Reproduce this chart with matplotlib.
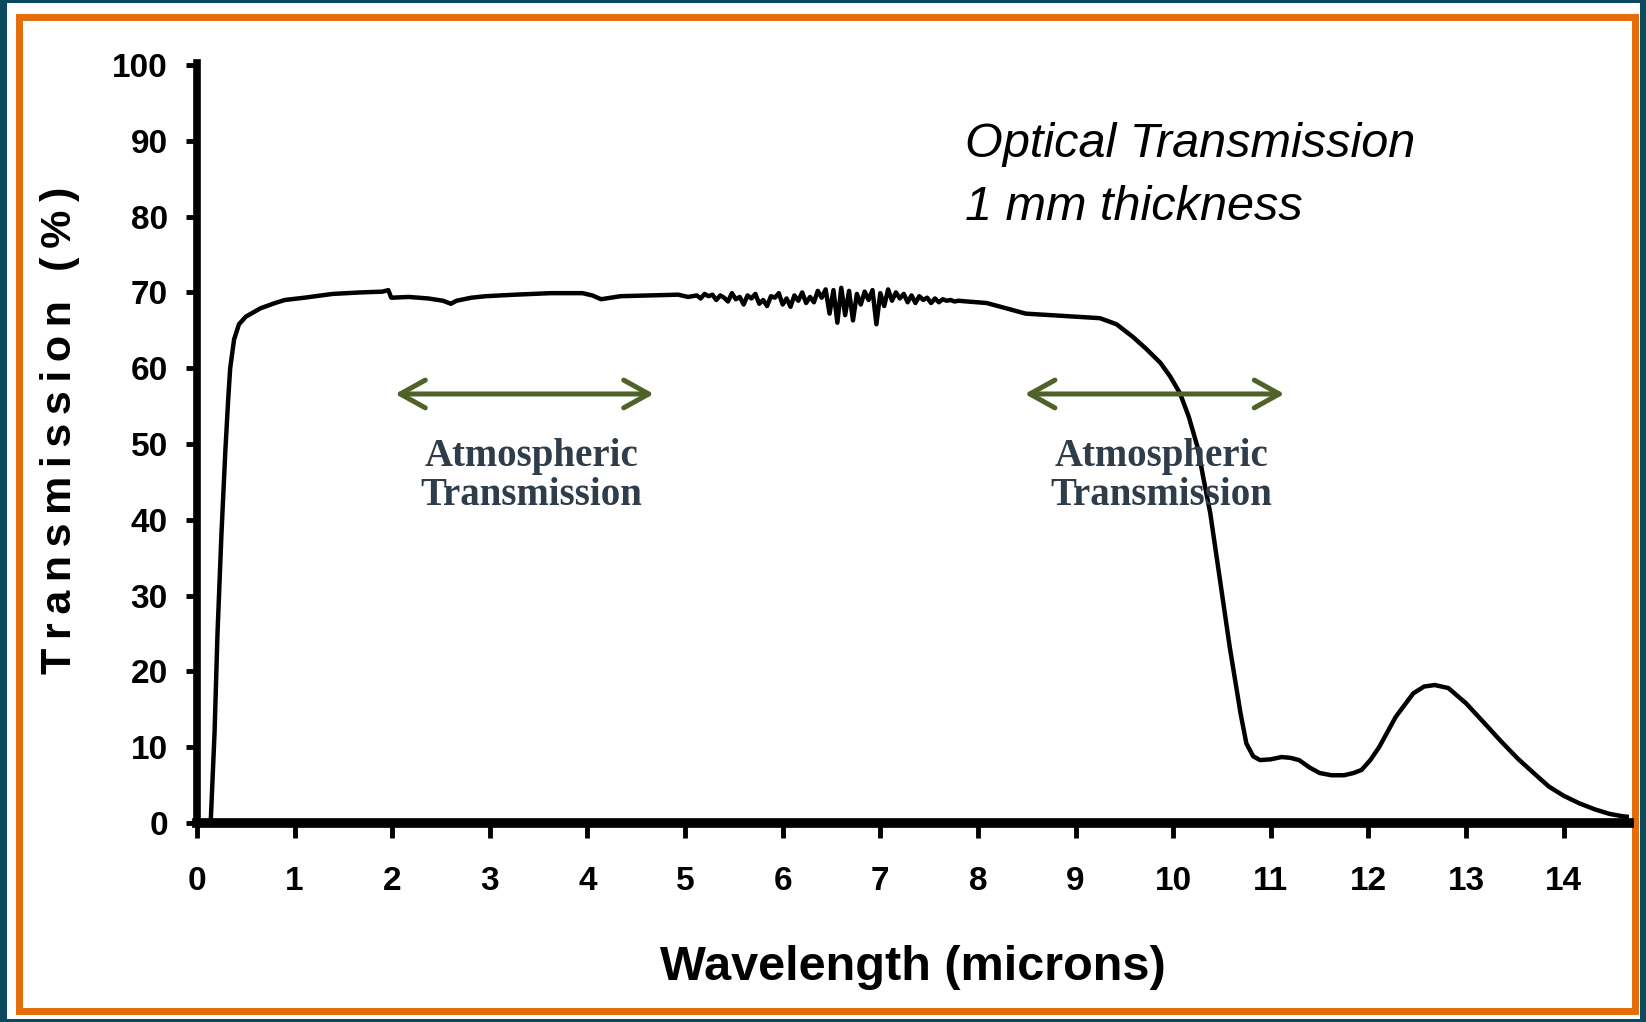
"""Optical transmission of a 1 mm window versus wavelength."""

import matplotlib

matplotlib.use("Agg")
import matplotlib.pyplot as plt
from matplotlib.patches import FancyArrowPatch, Rectangle

# wavelength (microns) and transmission (%)
wavelength = [
    0.14, 0.18, 0.21, 0.25, 0.29, 0.32, 0.34, 0.38, 0.43, 0.50, 0.65, 0.80,
    0.90, 1.10, 1.39, 1.68, 1.90, 1.96, 1.99, 2.17, 2.37, 2.52, 2.60, 2.66,
    2.81, 2.96, 3.26, 3.62, 3.95, 4.05, 4.14, 4.24, 4.34, 4.64, 4.93, 5.03,
    5.12, 5.16, 5.20, 5.24, 5.28, 5.32, 5.36, 5.40, 5.44, 5.48, 5.52, 5.56,
    5.60, 5.64, 5.68, 5.72, 5.76, 5.80, 5.84, 5.88, 5.92, 5.96, 6.00, 6.04,
    6.08, 6.12, 6.16, 6.20, 6.24, 6.28, 6.32, 6.36, 6.40, 6.44, 6.48, 6.52,
    6.56, 6.60, 6.64, 6.68, 6.72, 6.76, 6.80, 6.84, 6.88, 6.92, 6.96, 7.00,
    7.04, 7.08, 7.12, 7.16, 7.20, 7.24, 7.28, 7.32, 7.36, 7.40, 7.44, 7.48,
    7.52, 7.56, 7.60, 7.64, 7.68, 7.72, 7.76, 7.80,
    7.89, 8.09, 8.29, 8.49, 8.74, 9.25, 9.42, 9.59, 9.72, 9.87, 9.97, 10.07,
    10.16, 10.25, 10.31, 10.38, 10.48, 10.58, 10.69, 10.75, 10.82, 10.89,
    11.00, 11.11, 11.20, 11.29, 11.40, 11.50, 11.62, 11.75, 11.85, 11.93,
    12.02, 12.11, 12.28, 12.46, 12.57, 12.68, 12.82, 13.00, 13.18, 13.35,
    13.53, 13.71, 13.85, 14.00, 14.16, 14.32, 14.47, 14.60, 14.67,
]
transmission = [
    0.0, 12.0, 25.0, 38.0, 49.0, 56.0, 60.0, 63.8, 65.8, 66.8, 67.9, 68.6,
    69.0, 69.3, 69.8, 70.0, 70.1, 70.3, 69.3, 69.4, 69.2, 68.9, 68.5, 68.9,
    69.3, 69.5, 69.7, 69.9, 69.9, 69.6, 69.1, 69.3, 69.5, 69.6, 69.7, 69.4,
    69.6, 69.2, 69.8, 69.5, 69.7, 69.0, 69.6, 69.3, 68.8, 69.9, 69.1, 69.4,
    68.4, 69.6, 69.2, 69.8, 68.5, 69.0, 68.2, 69.5, 69.3, 69.9, 68.4, 69.2,
    68.1, 69.6, 68.9, 70.0, 68.6, 69.4, 68.7, 70.2, 69.3, 70.4, 67.2, 70.3,
    66.0, 70.6, 67.0, 70.2, 66.3, 69.8, 68.4, 70.1, 69.0, 70.3, 65.8, 69.9,
    68.2, 70.4, 68.9, 70.0, 69.2, 69.8, 68.7, 69.6, 68.6, 69.5, 69.0, 69.3,
    68.6, 69.2, 68.7, 69.1, 68.9, 69.0, 68.8, 68.9,
    68.8, 68.6, 67.9, 67.2, 67.0, 66.6, 65.8, 64.1, 62.6, 60.7, 58.9, 56.7,
    53.6, 49.6, 45.5, 40.9, 32.1, 23.2, 14.5, 10.5, 8.8, 8.3,
    8.4, 8.7, 8.6, 8.3, 7.3, 6.6, 6.3, 6.3, 6.6, 7.0,
    8.3, 10.0, 14.0, 17.1, 18.0, 18.2, 17.8, 15.8, 13.3, 10.9,
    8.5, 6.4, 4.8, 3.6, 2.6, 1.8, 1.2, 0.9, 0.8,
]

x_ticks = list(range(0, 15))
y_ticks = list(range(0, 101, 10))

# atmospheric windows (start, end) in microns
windows = [(2.03, 4.68), (8.48, 11.14)]
window_label = "Atmospheric\nTransmission"

TEAL = "#0b4a5e"
ORANGE = "#e46c0a"
OLIVE = "#4f6228"
SLATE = "#2e3d49"


def main():
    fig = plt.figure(figsize=(16.46, 10.22), dpi=100, facecolor=TEAL)
    W, H = 1646, 1022

    # white panel with orange frame, kept behind the axes
    fig.patches.append(Rectangle((7 / W, 3 / H), 1633 / W, 1016 / H,
                                 transform=fig.transFigure, facecolor="white",
                                 edgecolor="none", zorder=-3))
    fig.patches.append(Rectangle((18.5 / W, 1 - 1011 / H), 1616.5 / W, 993.5 / H,
                                 transform=fig.transFigure, facecolor="none",
                                 edgecolor=ORANGE, linewidth=5, zorder=-2))

    ax = fig.add_axes([197 / W, 1 - 823 / H, 1432 / W, 758 / H])
    ax.set_facecolor("none")
    ax.plot(wavelength, transmission, color="black", linewidth=3.2,
            solid_joinstyle="round", solid_capstyle="round", zorder=3)

    ax.set_xlim(0, 14.67)
    ax.set_ylim(0, 100)
    ax.set_xticks(x_ticks)
    ax.set_yticks(y_ticks)

    for side in ("top", "right"):
        ax.spines[side].set_visible(False)
    ax.spines["bottom"].set_linewidth(7)
    ax.spines["left"].set_linewidth(5.5)
    ax.spines["left"].set_bounds(0, 100.3)

    tick_font = dict(family="Liberation Sans", weight="bold", size=24)
    ax.tick_params(axis="x", direction="out", length=11, width=3.5, pad=20)
    ax.tick_params(axis="y", direction="out", length=8, width=3.5, pad=13)
    ax.set_xticklabels([str(v) for v in x_ticks], fontdict=tick_font)
    ax.set_yticklabels([str(v) for v in y_ticks], fontdict=tick_font)

    # axis titles
    thin = "\u2009"
    fig.text(60 / W, 1 - 430 / H, thin.join("Transmission (%)"),
             rotation=90, ha="center", va="center",
             family=["Liberation Sans", "DejaVu Sans"], weight="bold", size=31)
    fig.text(913 / W, 1 - 967 / H, "Wavelength (microns)", ha="center",
             va="center", family="Liberation Sans", weight="bold", size=35)

    ax.text(7.87, 79.6, "Optical Transmission\n1 mm thickness",
            family="Liberation Sans", style="italic", size=35,
            ha="left", va="baseline", linespacing=1.5)

    for start, end in windows:
        arrow = FancyArrowPatch((start, 56.6), (end, 56.6),
                                arrowstyle="<->,head_length=0.9,head_width=0.5",
                                mutation_scale=20, color=OLIVE, linewidth=3.6,
                                shrinkA=0, shrinkB=0,
                                capstyle="round", joinstyle="round", zorder=4)
        ax.add_patch(arrow)
        ax.text((start + end) / 2 + 0.07, 45.8, window_label, ha="center",
                va="center", family="Liberation Serif", weight="bold",
                size=28, color=SLATE, linespacing=1.05, zorder=5)

    fig.savefig("out.png", dpi=100, facecolor=TEAL)


if __name__ == "__main__":
    main()
